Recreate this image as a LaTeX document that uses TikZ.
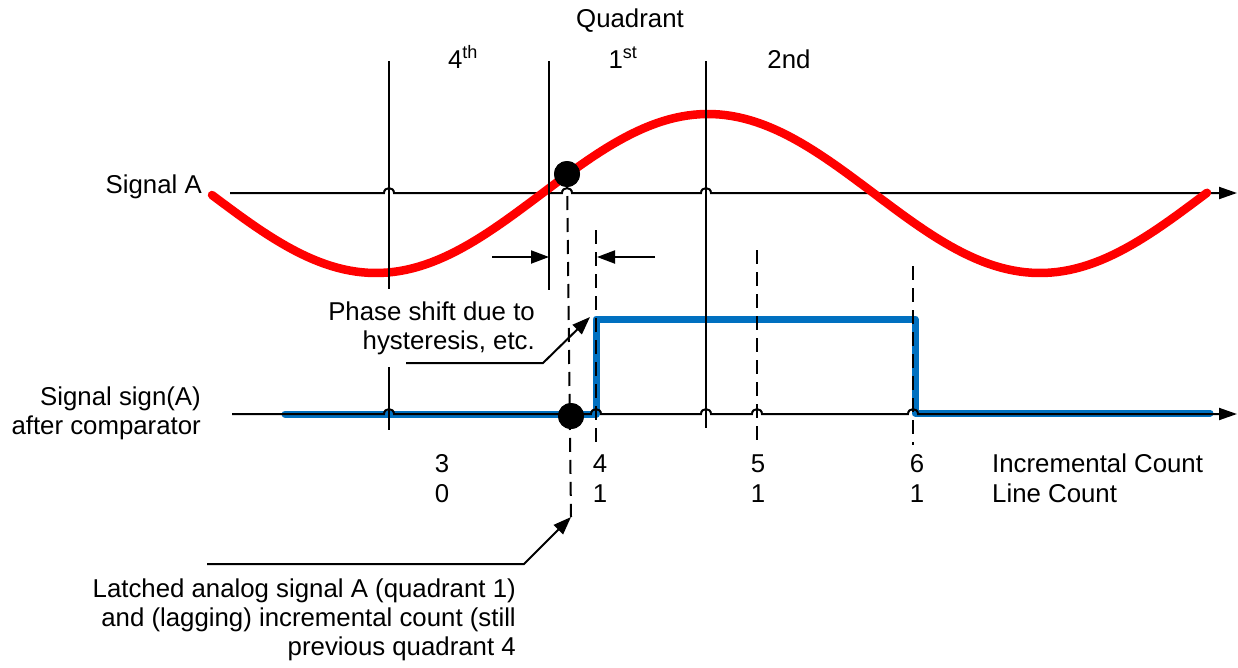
\documentclass[tikz,border=0pt]{standalone}
\usepackage{fontspec}
\setmainfont{Liberation Sans}
\usetikzlibrary{arrows.meta}
\definecolor{sigred}{RGB}{255,0,0}
\definecolor{sigblue}{RGB}{0,112,192}
\begin{document}
\begin{tikzpicture}[x=1pt,y=-1pt,
  txt/.style={font=\fontsize{25.8pt}{29pt}\selectfont, inner sep=0pt},
  axisline/.style={line width=2pt, -{Triangle[length=18pt,width=12pt]}},
  solidline/.style={line width=2pt},
  dashline/.style={line width=2pt, dash pattern=on 14pt off 8pt},
  leader/.style={line width=2pt, -{Triangle[length=18pt,width=13pt]}},
  redsig/.style={draw=sigred, line width=8.5pt, line cap=round},
  bluesig/.style={draw=sigblue, line width=7pt, line join=round, line cap=round},
  dot/.style={circle, fill=black, minimum size=26pt, inner sep=0pt},
]
\useasboundingbox (0,0) rectangle (1238,667);

% comparator output
\draw[bluesig] (285,414) -- (596,414) -- (596,319) -- (915,319) -- (915,413) -- (1210,413);

% axes with line hops
\coordinate (a1s) at (230,193);
\coordinate (a1e) at (1237,193);
\coordinate (a2s) at (232,414);
\coordinate (a2e) at (1237,414);
\draw[axisline] (a1s) -- (384,193) .. controls (384,186.5) and (394,186.5) .. (394,193)
  -- (562,193) .. controls (562,186.5) and (572,186.5) .. (572,193)
  -- (701,193) .. controls (701,186.5) and (711,186.5) .. (711,193) -- (a1e);
\draw[axisline] (a2s) -- (384,414) .. controls (384,407.5) and (394,407.5) .. (394,414)
  -- (591,414) .. controls (591,407.5) and (601,407.5) .. (601,414)
  -- (701,414) .. controls (701,407.5) and (711,407.5) .. (711,414)
  -- (752,414) .. controls (752,407.5) and (762,407.5) .. (762,414)
  -- (908,414) .. controls (908,407.5) and (918,407.5) .. (918,414) -- (a2e);

% signal A
\draw[redsig] plot[domain=212:1207, samples=160] (\x,{193.5-79.5*cos((\x-708)/166*90)});

% quadrant boundaries
\draw[solidline] (389,61) -- (389,430);
\draw[solidline] (549,61) -- (549,290);
\draw[solidline] (706,61) -- (706,428);

% latch instants / counts
\node[dot] (d1) at (567,174) {};
\node[dot] (d2) at (571,416) {};
\coordinate (lat) at (571,517);
\draw[dashline] (d1.center) -- (lat);
\draw[dashline] (596,230) -- (596,448);
\draw[dashline] (757,250) -- (757,440);
\draw[dashline] (913,266) -- (913,445);
\node[dot] at (d1) {};
\node[dot] at (d2) {};

% phase shift arrows
\coordinate (p1s) at (492,257); \coordinate (p1e) at (549,257);
\coordinate (p2s) at (655,257); \coordinate (p2e) at (597,257);
\draw[leader] (p1s) -- (p1e);
\draw[leader] (p2s) -- (p2e);

% texts
\node[txt, anchor=base] (quad) at (630,27) {Quadrant};
\node[txt, anchor=base] (q4) at (463,68) {4\textsuperscript{th}};
\node[txt, anchor=base] (q1) at (623,68) {1\textsuperscript{st}};
\node[txt, anchor=base] (q2) at (789,68) {2nd};
\node[txt, anchor=base east] (sigA) at (202,193) {Signal A};
\node[txt, anchor=east, align=right] (sigS) at (201,413) {Signal sign(A)\\after comparator};
\node[txt, anchor=east, align=right, fill=white, inner ysep=12pt, inner xsep=2pt] (phase) at (537,328) {Phase shift due to\\hysteresis, etc.};
\coordinate (ph1) at (406,363);
\coordinate (ph2) at (590,317);
\draw[leader] (ph1) -- (543,363) -- (ph2);

\node[txt, anchor=base] (n3) at (442,472) {3};
\node[txt, anchor=base] (n0) at (442,502) {0};
\node[txt, anchor=base] (n4) at (600,472) {4};
\node[txt, anchor=base] (n1a) at (600,502) {1};
\node[txt, anchor=base] (n5) at (758,472) {5};
\node[txt, anchor=base] (n1b) at (758,502) {1};
\node[txt, anchor=base] (n6) at (917,472) {6};
\node[txt, anchor=base] (n1c) at (917,502) {1};
\node[txt, anchor=base west] (inc) at (992,472) {Incremental Count};
\node[txt, anchor=base west] (line) at (992,502) {Line Count};

\node[txt, anchor=east, align=right] (latch) at (516,620) {Latched analog signal A (quadrant 1)\\and (lagging) incremental count (still\\previous quadrant 4};
\coordinate (lt1) at (207,564);
\draw[leader] (lt1) -- (524,564) -- (lat);
\end{tikzpicture}
\end{document}
